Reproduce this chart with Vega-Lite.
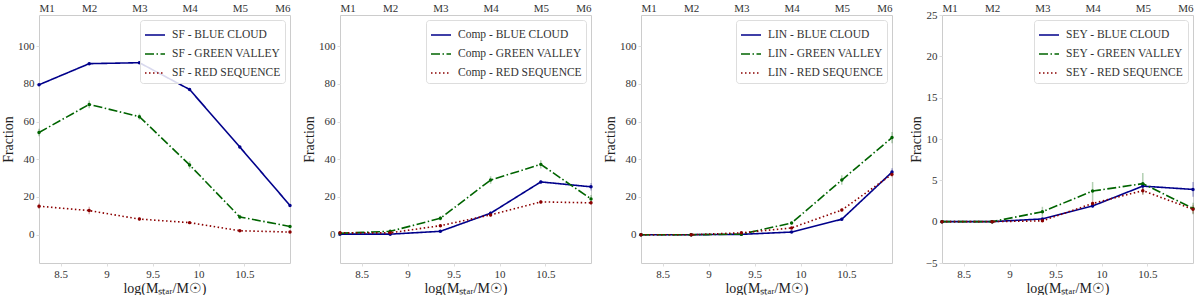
{
"$schema":"https://vega.github.io/schema/vega-lite/v6.json",
"padding":{"left":1,"top":1,"right":0,"bottom":0},
"background":"white",
"bounds":"flush",
"config":{
 "font":"Liberation Serif",
 "view":{"stroke":"#cccccc","strokeWidth":1},
 "axis":{"labelFont":"Liberation Serif","labelFontSize":11,"labelColor":"#333","titleFont":"Liberation Serif","titleFontWeight":"normal","titleFontSize":14,"titleColor":"#222","domain":false,"grid":false,"tickColor":"#dddddd","tickSize":3,"labelPadding":2,"titlePadding":2},
 "legend":{"orient":"top-right","offset":5,"fillColor":"rgba(255,255,255,0.85)","strokeColor":"#dddddd","cornerRadius":3,"padding":4,"labelFont":"Liberation Serif","labelFontSize":11.5,"labelColor":"#333","labelOffset":6,"symbolType":"stroke","symbolSize":400,"symbolStrokeWidth":1.6,"symbolOpacity":1,"rowPadding":2,"labelLimit":300,"title":null},
 "concat":{"spacing":50}
},
"datasets":{"d":[
{"panel":"SF","pop":"BLUE CLOUD","x":8.265,"y":79.5,"lo":78.9,"hi":80.1},
{"panel":"SF","pop":"BLUE CLOUD","x":8.811,"y":90.7,"lo":90.1,"hi":91.3},
{"panel":"SF","pop":"BLUE CLOUD","x":9.357,"y":91.2,"lo":90.6,"hi":91.8},
{"panel":"SF","pop":"BLUE CLOUD","x":9.903,"y":77.0,"lo":76.4,"hi":77.6},
{"panel":"SF","pop":"BLUE CLOUD","x":10.449,"y":46.5,"lo":45.8,"hi":47.2},
{"panel":"SF","pop":"BLUE CLOUD","x":10.995,"y":15.5,"lo":14.8,"hi":16.2},
{"panel":"SF","pop":"GREEN VALLEY","x":8.265,"y":54.2,"lo":52.2,"hi":56.2},
{"panel":"SF","pop":"GREEN VALLEY","x":8.811,"y":69.1,"lo":67.1,"hi":71.1},
{"panel":"SF","pop":"GREEN VALLEY","x":9.357,"y":62.6,"lo":61.0,"hi":64.2},
{"panel":"SF","pop":"GREEN VALLEY","x":9.903,"y":37.0,"lo":35.0,"hi":39.0},
{"panel":"SF","pop":"GREEN VALLEY","x":10.449,"y":9.4,"lo":8.2,"hi":10.6},
{"panel":"SF","pop":"GREEN VALLEY","x":10.995,"y":4.4,"lo":3.8,"hi":5.0},
{"panel":"SF","pop":"RED SEQUENCE","x":8.265,"y":15.1,"lo":13.6,"hi":16.6},
{"panel":"SF","pop":"RED SEQUENCE","x":8.811,"y":12.8,"lo":10.8,"hi":14.8},
{"panel":"SF","pop":"RED SEQUENCE","x":9.357,"y":8.3,"lo":7.3,"hi":9.3},
{"panel":"SF","pop":"RED SEQUENCE","x":9.903,"y":6.4,"lo":5.7,"hi":7.1},
{"panel":"SF","pop":"RED SEQUENCE","x":10.449,"y":2.1,"lo":1.6,"hi":2.6},
{"panel":"SF","pop":"RED SEQUENCE","x":10.995,"y":1.4,"lo":1.0,"hi":1.8},
{"panel":"Comp","pop":"BLUE CLOUD","x":8.265,"y":0.3,"lo":0.0,"hi":0.6},
{"panel":"Comp","pop":"BLUE CLOUD","x":8.811,"y":0.3,"lo":0.0,"hi":0.6},
{"panel":"Comp","pop":"BLUE CLOUD","x":9.357,"y":1.8,"lo":1.3,"hi":2.3},
{"panel":"Comp","pop":"BLUE CLOUD","x":9.903,"y":11.4,"lo":10.4,"hi":12.4},
{"panel":"Comp","pop":"BLUE CLOUD","x":10.449,"y":28.0,"lo":27.0,"hi":29.0},
{"panel":"Comp","pop":"BLUE CLOUD","x":10.995,"y":25.4,"lo":23.4,"hi":27.4},
{"panel":"Comp","pop":"GREEN VALLEY","x":8.265,"y":0.8,"lo":0.3,"hi":1.3},
{"panel":"Comp","pop":"GREEN VALLEY","x":8.811,"y":1.8,"lo":1.1,"hi":2.5},
{"panel":"Comp","pop":"GREEN VALLEY","x":9.357,"y":8.7,"lo":7.5,"hi":9.9},
{"panel":"Comp","pop":"GREEN VALLEY","x":9.903,"y":29.0,"lo":27.0,"hi":31.0},
{"panel":"Comp","pop":"GREEN VALLEY","x":10.449,"y":37.3,"lo":35.1,"hi":39.5},
{"panel":"Comp","pop":"GREEN VALLEY","x":10.995,"y":19.0,"lo":17.0,"hi":21.0},
{"panel":"Comp","pop":"RED SEQUENCE","x":8.265,"y":1.0,"lo":0.5,"hi":1.5},
{"panel":"Comp","pop":"RED SEQUENCE","x":8.811,"y":1.0,"lo":0.5,"hi":1.5},
{"panel":"Comp","pop":"RED SEQUENCE","x":9.357,"y":4.8,"lo":4.1,"hi":5.5},
{"panel":"Comp","pop":"RED SEQUENCE","x":9.903,"y":10.5,"lo":9.5,"hi":11.5},
{"panel":"Comp","pop":"RED SEQUENCE","x":10.449,"y":17.4,"lo":16.4,"hi":18.4},
{"panel":"Comp","pop":"RED SEQUENCE","x":10.995,"y":16.9,"lo":15.9,"hi":17.9},
{"panel":"LIN","pop":"BLUE CLOUD","x":8.265,"y":0.0,"lo":0.0,"hi":0.0},
{"panel":"LIN","pop":"BLUE CLOUD","x":8.811,"y":0.0,"lo":0.0,"hi":0.0},
{"panel":"LIN","pop":"BLUE CLOUD","x":9.357,"y":0.2,"lo":0.1,"hi":0.3},
{"panel":"LIN","pop":"BLUE CLOUD","x":9.903,"y":1.4,"lo":1.0,"hi":1.8},
{"panel":"LIN","pop":"BLUE CLOUD","x":10.449,"y":8.2,"lo":7.4,"hi":9.0},
{"panel":"LIN","pop":"BLUE CLOUD","x":10.995,"y":33.2,"lo":31.2,"hi":35.2},
{"panel":"LIN","pop":"GREEN VALLEY","x":8.265,"y":0.0,"lo":0.0,"hi":0.0},
{"panel":"LIN","pop":"GREEN VALLEY","x":8.811,"y":0.0,"lo":0.0,"hi":0.0},
{"panel":"LIN","pop":"GREEN VALLEY","x":9.357,"y":0.3,"lo":0.1,"hi":0.5},
{"panel":"LIN","pop":"GREEN VALLEY","x":9.903,"y":6.2,"lo":5.4,"hi":7.0},
{"panel":"LIN","pop":"GREEN VALLEY","x":10.449,"y":29.0,"lo":26.5,"hi":31.5},
{"panel":"LIN","pop":"GREEN VALLEY","x":10.995,"y":51.5,"lo":48.5,"hi":54.5},
{"panel":"LIN","pop":"RED SEQUENCE","x":8.265,"y":0.0,"lo":0.0,"hi":0.0},
{"panel":"LIN","pop":"RED SEQUENCE","x":8.811,"y":0.0,"lo":0.0,"hi":0.0},
{"panel":"LIN","pop":"RED SEQUENCE","x":9.357,"y":1.0,"lo":0.7,"hi":1.3},
{"panel":"LIN","pop":"RED SEQUENCE","x":9.903,"y":3.6,"lo":3.1,"hi":4.1},
{"panel":"LIN","pop":"RED SEQUENCE","x":10.449,"y":13.1,"lo":12.3,"hi":13.9},
{"panel":"LIN","pop":"RED SEQUENCE","x":10.995,"y":32.0,"lo":30.5,"hi":33.5},
{"panel":"SEY","pop":"BLUE CLOUD","x":8.265,"y":0.0,"lo":0.0,"hi":0.0},
{"panel":"SEY","pop":"BLUE CLOUD","x":8.811,"y":0.0,"lo":0.0,"hi":0.0},
{"panel":"SEY","pop":"BLUE CLOUD","x":9.357,"y":0.33,"lo":0.23,"hi":0.43},
{"panel":"SEY","pop":"BLUE CLOUD","x":9.903,"y":1.9,"lo":1.7,"hi":2.1},
{"panel":"SEY","pop":"BLUE CLOUD","x":10.449,"y":4.3,"lo":3.9,"hi":4.7},
{"panel":"SEY","pop":"BLUE CLOUD","x":10.995,"y":3.9,"lo":3.0,"hi":4.8},
{"panel":"SEY","pop":"GREEN VALLEY","x":8.265,"y":0.0,"lo":0.0,"hi":0.0},
{"panel":"SEY","pop":"GREEN VALLEY","x":8.811,"y":0.0,"lo":0.0,"hi":0.0},
{"panel":"SEY","pop":"GREEN VALLEY","x":9.357,"y":1.2,"lo":0.6,"hi":1.8},
{"panel":"SEY","pop":"GREEN VALLEY","x":9.903,"y":3.7,"lo":2.6,"hi":4.8},
{"panel":"SEY","pop":"GREEN VALLEY","x":10.449,"y":4.6,"lo":3.3,"hi":5.9},
{"panel":"SEY","pop":"GREEN VALLEY","x":10.995,"y":1.6,"lo":0.9,"hi":2.3},
{"panel":"SEY","pop":"RED SEQUENCE","x":8.265,"y":0.0,"lo":0.0,"hi":0.0},
{"panel":"SEY","pop":"RED SEQUENCE","x":8.811,"y":0.0,"lo":0.0,"hi":0.0},
{"panel":"SEY","pop":"RED SEQUENCE","x":9.357,"y":0.1,"lo":0.0,"hi":0.25},
{"panel":"SEY","pop":"RED SEQUENCE","x":9.903,"y":2.2,"lo":1.8,"hi":2.6},
{"panel":"SEY","pop":"RED SEQUENCE","x":10.449,"y":3.75,"lo":3.25,"hi":4.25},
{"panel":"SEY","pop":"RED SEQUENCE","x":10.995,"y":1.5,"lo":1.0,"hi":2.0}
]},
"data":{"name":"d"},
"hconcat":[
{"width":251,"height":248,
 "transform":[{"filter":"datum.panel === 'SF'"}],
 "layer":[
  {"encoding":{
    "x":{"field":"x","type":"quantitative","scale":{"domain":[8.265,10.995],"nice":false,"zero":false},"axis":{"values":[8.5,9,9.5,10,10.5],"format":"~g","title":"log(Mₛₜₐᵣ/M☉)"}},
    "y":{"field":"y","type":"quantitative","scale":{"domain":[-15,116.5],"nice":false,"zero":false},"axis":{"values":[0,20,40,60,80,100],"title":"Fraction"}},
    "color":{"field":"pop","type":"nominal","scale":{"domain":["BLUE CLOUD","GREEN VALLEY","RED SEQUENCE"],"range":["#00008b","#006400","#8b0000"]},"legend":{"labelExpr":"'SF - ' + datum.label"}}},
   "layer":[
    {"mark":{"type":"rule","strokeWidth":1.5,"opacity":0.3},"encoding":{"y":{"field":"lo","type":"quantitative","axis":{"values":[0,20,40,60,80,100],"title":"Fraction"}},"y2":{"field":"hi"}}},
    {"mark":{"type":"line","strokeWidth":1.6},"encoding":{"strokeDash":{"field":"pop","type":"nominal","scale":{"domain":["BLUE CLOUD","GREEN VALLEY","RED SEQUENCE"],"range":[[1,0],[9,2.5,1.5,2.5],[1.5,2.5]]},"legend":{"labelExpr":"'SF - ' + datum.label"}}}},
    {"mark":{"type":"point","filled":true,"size":12,"opacity":1}}
   ]},
  {"mark":{"type":"point","opacity":0},
   "encoding":{
    "x":{"field":"x","type":"quantitative","axis":{"orient":"top","ticks":false,"values":[8.265,8.811,9.357,9.903,10.449,10.995],"labelExpr":"'M' + (round((datum.value - 8.265) / 0.546) + 1)","title":null}},
    "y":{"field":"y","type":"quantitative","axis":{"values":[0,20,40,60,80,100],"title":"Fraction"}}}}
 ],
 "resolve":{"axis":{"x":"independent"}}
},
{"width":251,"height":248,
 "transform":[{"filter":"datum.panel === 'Comp'"}],
 "layer":[
  {"encoding":{
    "x":{"field":"x","type":"quantitative","scale":{"domain":[8.265,10.995],"nice":false,"zero":false},"axis":{"values":[8.5,9,9.5,10,10.5],"format":"~g","title":"log(Mₛₜₐᵣ/M☉)"}},
    "y":{"field":"y","type":"quantitative","scale":{"domain":[-15,116.5],"nice":false,"zero":false},"axis":{"values":[0,20,40,60,80,100],"title":"Fraction"}},
    "color":{"field":"pop","type":"nominal","scale":{"domain":["BLUE CLOUD","GREEN VALLEY","RED SEQUENCE"],"range":["#00008b","#006400","#8b0000"]},"legend":{"labelExpr":"'Comp - ' + datum.label"}}},
   "layer":[
    {"mark":{"type":"rule","strokeWidth":1.5,"opacity":0.3},"encoding":{"y":{"field":"lo","type":"quantitative","axis":{"values":[0,20,40,60,80,100],"title":"Fraction"}},"y2":{"field":"hi"}}},
    {"mark":{"type":"line","strokeWidth":1.6},"encoding":{"strokeDash":{"field":"pop","type":"nominal","scale":{"domain":["BLUE CLOUD","GREEN VALLEY","RED SEQUENCE"],"range":[[1,0],[9,2.5,1.5,2.5],[1.5,2.5]]},"legend":{"labelExpr":"'Comp - ' + datum.label"}}}},
    {"mark":{"type":"point","filled":true,"size":12,"opacity":1}}
   ]},
  {"mark":{"type":"point","opacity":0},
   "encoding":{
    "x":{"field":"x","type":"quantitative","axis":{"orient":"top","ticks":false,"values":[8.265,8.811,9.357,9.903,10.449,10.995],"labelExpr":"'M' + (round((datum.value - 8.265) / 0.546) + 1)","title":null}},
    "y":{"field":"y","type":"quantitative","axis":{"values":[0,20,40,60,80,100],"title":"Fraction"}}}}
 ],
 "resolve":{"axis":{"x":"independent"}}
},
{"width":251,"height":248,
 "transform":[{"filter":"datum.panel === 'LIN'"}],
 "layer":[
  {"encoding":{
    "x":{"field":"x","type":"quantitative","scale":{"domain":[8.265,10.995],"nice":false,"zero":false},"axis":{"values":[8.5,9,9.5,10,10.5],"format":"~g","title":"log(Mₛₜₐᵣ/M☉)"}},
    "y":{"field":"y","type":"quantitative","scale":{"domain":[-15,116.5],"nice":false,"zero":false},"axis":{"values":[0,20,40,60,80,100],"title":"Fraction"}},
    "color":{"field":"pop","type":"nominal","scale":{"domain":["BLUE CLOUD","GREEN VALLEY","RED SEQUENCE"],"range":["#00008b","#006400","#8b0000"]},"legend":{"labelExpr":"'LIN - ' + datum.label"}}},
   "layer":[
    {"mark":{"type":"rule","strokeWidth":1.5,"opacity":0.3},"encoding":{"y":{"field":"lo","type":"quantitative","axis":{"values":[0,20,40,60,80,100],"title":"Fraction"}},"y2":{"field":"hi"}}},
    {"mark":{"type":"line","strokeWidth":1.6},"encoding":{"strokeDash":{"field":"pop","type":"nominal","scale":{"domain":["BLUE CLOUD","GREEN VALLEY","RED SEQUENCE"],"range":[[1,0],[9,2.5,1.5,2.5],[1.5,2.5]]},"legend":{"labelExpr":"'LIN - ' + datum.label"}}}},
    {"mark":{"type":"point","filled":true,"size":12,"opacity":1}}
   ]},
  {"mark":{"type":"point","opacity":0},
   "encoding":{
    "x":{"field":"x","type":"quantitative","axis":{"orient":"top","ticks":false,"values":[8.265,8.811,9.357,9.903,10.449,10.995],"labelExpr":"'M' + (round((datum.value - 8.265) / 0.546) + 1)","title":null}},
    "y":{"field":"y","type":"quantitative","axis":{"values":[0,20,40,60,80,100],"title":"Fraction"}}}}
 ],
 "resolve":{"axis":{"x":"independent"}}
},
{"width":251,"height":248,
 "transform":[{"filter":"datum.panel === 'SEY'"}],
 "layer":[
  {"encoding":{
    "x":{"field":"x","type":"quantitative","scale":{"domain":[8.265,10.995],"nice":false,"zero":false},"axis":{"values":[8.5,9,9.5,10,10.5],"format":"~g","title":"log(Mₛₜₐᵣ/M☉)"}},
    "y":{"field":"y","type":"quantitative","scale":{"domain":[-5,25],"nice":false,"zero":false},"axis":{"values":[-5,0,5,10,15,20,25],"title":"Fraction"}},
    "color":{"field":"pop","type":"nominal","scale":{"domain":["BLUE CLOUD","GREEN VALLEY","RED SEQUENCE"],"range":["#00008b","#006400","#8b0000"]},"legend":{"labelExpr":"'SEY - ' + datum.label"}}},
   "layer":[
    {"mark":{"type":"rule","strokeWidth":1.5,"opacity":0.3},"encoding":{"y":{"field":"lo","type":"quantitative","axis":{"values":[-5,0,5,10,15,20,25],"title":"Fraction"}},"y2":{"field":"hi"}}},
    {"mark":{"type":"line","strokeWidth":1.6},"encoding":{"strokeDash":{"field":"pop","type":"nominal","scale":{"domain":["BLUE CLOUD","GREEN VALLEY","RED SEQUENCE"],"range":[[1,0],[9,2.5,1.5,2.5],[1.5,2.5]]},"legend":{"labelExpr":"'SEY - ' + datum.label"}}}},
    {"mark":{"type":"point","filled":true,"size":12,"opacity":1}}
   ]},
  {"mark":{"type":"point","opacity":0},
   "encoding":{
    "x":{"field":"x","type":"quantitative","axis":{"orient":"top","ticks":false,"values":[8.265,8.811,9.357,9.903,10.449,10.995],"labelExpr":"'M' + (round((datum.value - 8.265) / 0.546) + 1)","title":null}},
    "y":{"field":"y","type":"quantitative","axis":{"values":[-5,0,5,10,15,20,25],"title":"Fraction"}}}}
 ],
 "resolve":{"axis":{"x":"independent"}}
}
],
"resolve":{"scale":{"color":"independent","strokeDash":"independent"},"legend":{"color":"independent","strokeDash":"independent"}}
}
